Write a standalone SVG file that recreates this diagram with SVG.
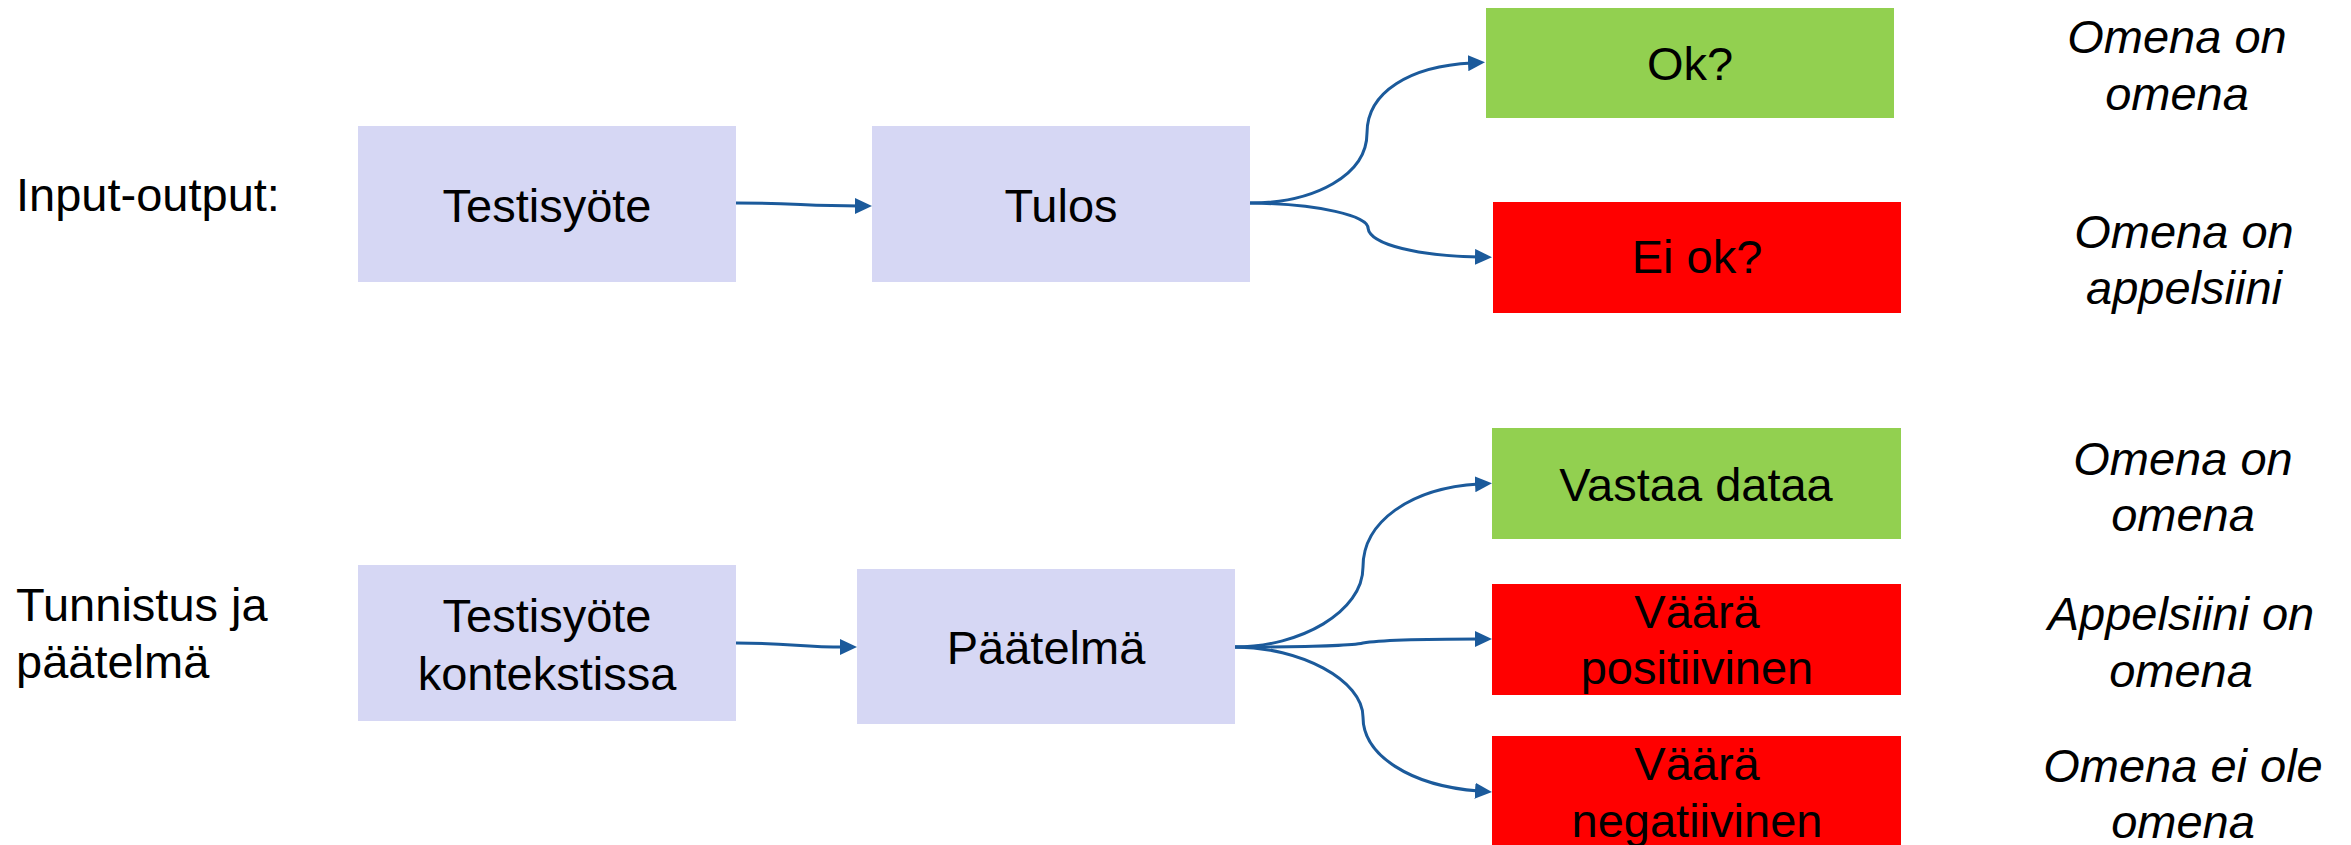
<svg xmlns="http://www.w3.org/2000/svg" width="2351" height="845" viewBox="0 0 2351 845">
<style>
.t{font-family:"Liberation Sans",Arial,sans-serif;font-size:47px;fill:#000}
.c{text-anchor:middle}
.i{font-style:italic;text-anchor:middle}
.lav{fill:#D6D7F4}
.grn{fill:#92D050}
.red{fill:#FF0000}
.con{fill:none;stroke:#1B5A9B;stroke-width:3}
</style>
<defs>
<marker id="ah" markerUnits="userSpaceOnUse" markerWidth="17" markerHeight="16" refX="4" refY="8" orient="auto">
<path d="M0,0 L17,8 L0,16 z" fill="#1B5A9B"/>
</marker>
</defs>
<rect width="2351" height="845" fill="#fff"/>
<g id="label-io"><text class="t" x="16" y="211">Input-output:</text></g>
<g id="label-tp"><text class="t" x="16" y="621">Tunnistus ja</text><text class="t" x="16" y="678">päätelmä</text></g>
<g id="n-testisyote"><rect class="lav" x="358" y="126" width="378" height="156"/><text class="t c" x="547" y="222">Testisyöte</text></g>
<g id="n-tulos"><rect class="lav" x="872" y="126" width="378" height="156"/><text class="t c" x="1061" y="222">Tulos</text></g>
<g id="n-ok"><rect class="grn" x="1486" y="8" width="408" height="110"/><text class="t c" x="1690" y="80">Ok?</text></g>
<g id="n-eiok"><rect class="red" x="1493" y="202" width="408" height="111"/><text class="t c" x="1697" y="273">Ei ok?</text></g>
<g id="n-testisyote2"><rect class="lav" x="358" y="565" width="378" height="156"/><text class="t c" x="547" y="632">Testisyöte</text><text class="t c" x="547" y="690">kontekstissa</text></g>
<g id="n-paatelma"><rect class="lav" x="857" y="569" width="378" height="155"/><text class="t c" x="1046" y="664">Päätelmä</text></g>
<g id="n-vastaa"><rect class="grn" x="1492" y="428" width="409" height="111"/><text class="t c" x="1696" y="501">Vastaa dataa</text></g>
<g id="n-vpos"><rect class="red" x="1492" y="584" width="409" height="111"/><text class="t c" x="1697" y="628">Väärä</text><text class="t c" x="1697" y="684">positiivinen</text></g>
<g id="n-vneg"><rect class="red" x="1492" y="736" width="409" height="111"/><text class="t c" x="1697" y="780">Väärä</text><text class="t c" x="1697" y="837">negatiivinen</text></g>
<g id="notes">
<text class="t i" x="2177" y="53">Omena on</text><text class="t i" x="2177" y="110">omena</text>
<text class="t i" x="2184" y="248">Omena on</text><text class="t i" x="2184" y="304">appelsiini</text>
<text class="t i" x="2183" y="475">Omena on</text><text class="t i" x="2183" y="531">omena</text>
<text class="t i" x="2181" y="630">Appelsiini on</text><text class="t i" x="2181" y="687">omena</text>
<text class="t i" x="2183" y="782">Omena ei ole</text><text class="t i" x="2183" y="838">omena</text>
</g>
<g id="connectors">
<path class="con" marker-end="url(#ah)" d="M736,203 C795,203 805,206 859,206"/>
<path class="con" marker-end="url(#ah)" d="M1250,203 C1315,203 1367,175 1367,133 C1367,92 1410,66 1472,63"/>
<path class="con" marker-end="url(#ah)" d="M1250,203 C1320,204 1368,216 1368,228 C1370,245 1420,256 1479,257"/>
<path class="con" marker-end="url(#ah)" d="M736,643 C790,643 800,647 844,647"/>
<path class="con" marker-end="url(#ah)" d="M1235,647 C1300,647 1363,612 1363,567 C1363,522 1410,488 1479,484"/>
<path class="con" marker-end="url(#ah)" d="M1235,647 C1300,647 1350,646 1363,643 C1380,640 1420,639 1479,639"/>
<path class="con" marker-end="url(#ah)" d="M1235,647 C1300,647 1363,680 1363,717 C1363,755 1410,786 1479,791"/>
</g>
</svg>
